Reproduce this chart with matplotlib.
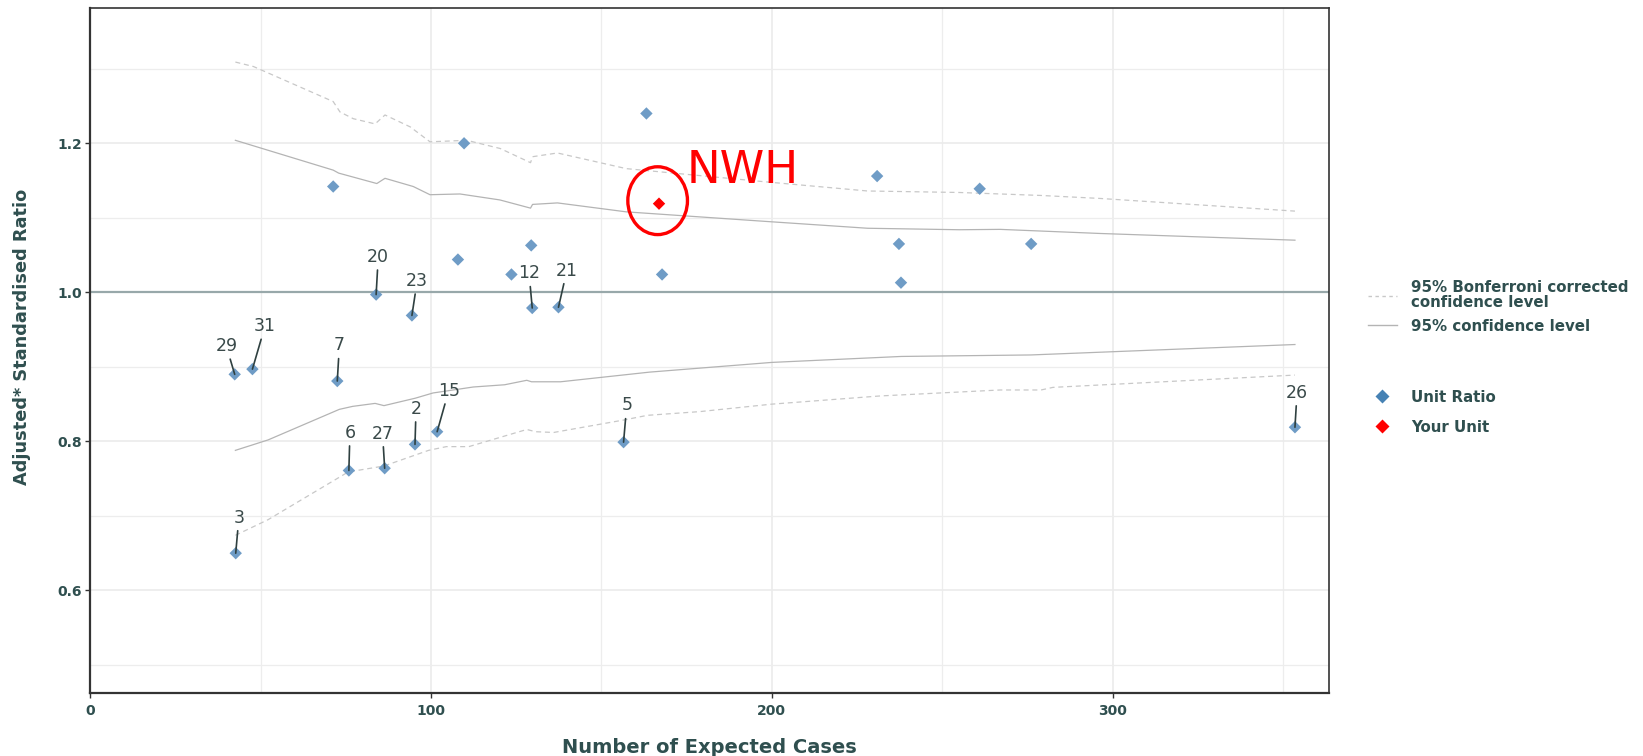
import matplotlib
matplotlib.use("Agg")
import matplotlib.pyplot as plt
from matplotlib.lines import Line2D
from matplotlib.patches import Ellipse
from matplotlib.ticker import MultipleLocator, FuncFormatter

plt.rcParams['font.family'] = ['DejaVu Sans']

# --- data ---
exp_cases = [42.7, 42.4, 47.6, 72.5, 71.3, 75.9, 86.4, 83.9, 94.4, 95.3, 101.8, 107.9, 109.7,
             123.6, 129.7, 129.4, 137.4, 156.5, 163.2, 167.8, 230.9, 237.3, 237.9, 261.0, 276.1, 353.5]
ratio = [0.650, 0.890, 0.897, 0.881, 1.142, 0.761, 0.764, 0.997, 0.969, 0.796, 0.813, 1.044, 1.200,
         1.024, 0.979, 1.063, 0.980, 0.799, 1.240, 1.024, 1.156, 1.065, 1.013, 1.139, 1.065, 0.819]
unit_labels = ['3', '29', '31', '7', '', '6', '27', '20', '23', '2', '15', '', '',
               '', '12', '', '21', '5', '', '', '', '', '', '', '', '26']

your_unit_name = 'NWH'
your_unit_x = 166.9
your_unit_y = 1.119

upper95_x = [42.6, 71.3, 72.9, 84.1, 86.5, 94.8, 99.7, 108.5, 120.2, 129.2, 129.8, 137.1, 157.3,
             198.8, 228.1, 255.0, 267.0, 296.3, 353.5]
upper95_y = [1.204, 1.164, 1.160, 1.146, 1.153, 1.142, 1.131, 1.132, 1.124, 1.113, 1.118, 1.120, 1.108,
             1.095, 1.086, 1.084, 1.0845, 1.079, 1.070]
lower95_x = [42.6, 52.2, 73.1, 77.0, 83.6, 86.2, 95.4, 100.6, 112.4, 121.6, 128.1, 129.5, 138.0,
             164.2, 200.0, 238.0, 276.0, 353.5]
lower95_y = [0.788, 0.802, 0.843, 0.847, 0.851, 0.848, 0.858, 0.865, 0.873, 0.876, 0.882, 0.880, 0.880,
             0.893, 0.906, 0.914, 0.916, 0.930]
upper_bonf_x = [42.6, 47.9, 71.3, 73.3, 77.2, 83.6, 86.5, 93.9, 99.7, 110.5, 120.3, 129.2, 129.8,
                137.1, 157.3, 198.8, 228.1, 255.0, 279.0, 296.3, 353.5]
upper_bonf_y = [1.309, 1.303, 1.256, 1.242, 1.233, 1.226, 1.238, 1.222, 1.202, 1.204, 1.193, 1.174, 1.182,
                1.187, 1.166, 1.148, 1.136, 1.134, 1.130, 1.126, 1.109]
lower_bonf_x = [42.6, 52.2, 75.7, 86.2, 99.3, 104.5, 111.1, 128.1, 130.7, 136.0, 156.9, 163.5, 178.9,
                200.0, 231.8, 267.0, 279.0, 282.5, 353.5]
lower_bonf_y = [0.674, 0.695, 0.759, 0.767, 0.788, 0.793, 0.793, 0.816, 0.813, 0.812, 0.829, 0.835, 0.840,
                0.850, 0.861, 0.869, 0.869, 0.8725, 0.889]

# label offsets (pixels, x right / y up) for the repelled labels
label_offsets = {'3': (3, 34), '29': (-8, 27), '31': (12, 41), '7': (2, 34), '6': (1, 36),
                 '27': (-2, 33), '20': (2, 36), '23': (5, 33), '2': (1, 34), '15': (11, 39),
                 '12': (-3, 33), '21': (8, 35), '5': (3, 35), '26': (2, 33)}

text_col = '#2f4f4f'
unit_col = '#6f9cc6'
ci_col = '#b4b4b4'
bonf_col = '#c8c8c8'

fig = plt.figure(figsize=(16.43, 7.56), dpi=100)
ax = fig.add_axes([0.0549, 0.0839, 0.8087 - 0.0549, 0.9889 - 0.0839])

ax.set_xlim(0, 363.4)
ax.set_ylim(0.463, 1.381)
ax.xaxis.set_major_locator(MultipleLocator(100))
ax.xaxis.set_minor_locator(MultipleLocator(50))
ax.yaxis.set_major_locator(MultipleLocator(0.2))
ax.yaxis.set_minor_locator(MultipleLocator(0.1))
ax.grid(True, which='major', color='#ebebeb', lw=1.2, zorder=0)
ax.grid(True, which='minor', color='#ededed', lw=0.9, zorder=0)
ax.set_axisbelow(True)

ax.axhline(1.0, color='#98a8aa', lw=1.6, zorder=1)

ax.plot(upper_bonf_x, upper_bonf_y, color=bonf_col, lw=0.9, ls=(0, (4, 3)), zorder=2)
ax.plot(lower_bonf_x, lower_bonf_y, color=bonf_col, lw=0.9, ls=(0, (4, 3)), zorder=2)
ax.plot(upper95_x, upper95_y, color=ci_col, lw=0.9, zorder=2)
ax.plot(lower95_x, lower95_y, color=ci_col, lw=0.9, zorder=2)

ax.scatter(exp_cases, ratio, marker='D', s=40, color=unit_col, edgecolors='none', zorder=4)
ax.scatter([your_unit_x], [your_unit_y], marker='D', s=40, color='red', edgecolors='none', zorder=5)

# labels with leader lines
px2pt = 1.0478 * 0.72
for x, y, lab in zip(exp_cases, ratio, unit_labels):
    if not lab:
        continue
    dx, dy = label_offsets[lab]
    ax.annotate(lab, (x, y), xytext=(dx * px2pt, dy * px2pt), textcoords='offset points',
                ha='center', va='center', fontsize=12.5, color='#3a4a4a', zorder=6,
                arrowprops=dict(arrowstyle='-', color='#2f4040', lw=1.2, shrinkA=1, shrinkB=0))

# highlight for your unit
ax.add_patch(Ellipse((your_unit_x - 0.4, your_unit_y + 0.004), width=17.5, height=0.091,
                     fill=False, edgecolor='red', lw=2.4, zorder=6))
ax.annotate(your_unit_name, (your_unit_x, your_unit_y), xytext=(19.7, 15.1),
            textcoords='offset points', ha='left', va='baseline', fontsize=32.5, color='red', zorder=6)

for side in ['left', 'bottom']:
    ax.spines[side].set_linewidth(1.6)
    ax.spines[side].set_color('#333333')
for side in ['top', 'right']:
    ax.spines[side].set_linewidth(1.2)
    ax.spines[side].set_color('#333333')

ax.tick_params(which='major', length=3.5, width=1, color='#333333', labelsize=10, labelcolor=text_col)
ax.tick_params(axis='x', which='major', pad=4.5)
ax.tick_params(axis='y', which='major', pad=2.5)
ax.tick_params(which='minor', length=0)
ax.yaxis.set_major_formatter(FuncFormatter(lambda v, p: f"{v:.1f}"))
ax.xaxis.set_major_formatter(FuncFormatter(lambda v, p: f"{v:.0f}"))
for lbl in ax.get_xticklabels() + ax.get_yticklabels():
    lbl.set_fontweight('bold')

ax.set_xlabel('Number of Expected Cases', fontsize=14, fontweight='bold', color=text_col)
ax.set_ylabel('Adjusted* Standardised Ratio', fontsize=12.8, fontweight='bold', color=text_col)
ax.xaxis.set_label_coords(0.5, -0.066)
ax.yaxis.set_label_coords(-0.048, 0.52)

# legends
line_handles = [Line2D([0], [0], color=bonf_col, lw=1.0, ls=(0, (2.5, 2.5))),
                Line2D([0], [0], color=ci_col, lw=1.0)]
leg1 = fig.legend(line_handles, ['95% Bonferroni corrected\nconfidence level', '95% confidence level'],
                  loc='center left', bbox_to_anchor=(0.8327, 0.594), frameon=False,
                  prop={'size': 10.8, 'weight': 'bold'}, labelcolor=text_col,
                  handlelength=1.9, handletextpad=0.95, borderpad=0, borderaxespad=0, labelspacing=0.6)
for t in leg1.get_texts():
    t.set_linespacing(0.95)

point_handles = [Line2D([0], [0], marker='D', ls='none', color='#4682b4', ms=7, mec='none'),
                 Line2D([0], [0], marker='D', ls='none', color='red', ms=7, mec='none')]
fig.legend(point_handles, ['Unit Ratio', 'Your Unit'],
           loc='center left', bbox_to_anchor=(0.8327, 0.455), frameon=False,
           prop={'size': 10.8, 'weight': 'bold'}, labelcolor=text_col,
           handlelength=1.9, handletextpad=0.95, borderpad=0, borderaxespad=0, labelspacing=1.0)

fig.savefig('out.png', dpi=100)
plt.close(fig)
